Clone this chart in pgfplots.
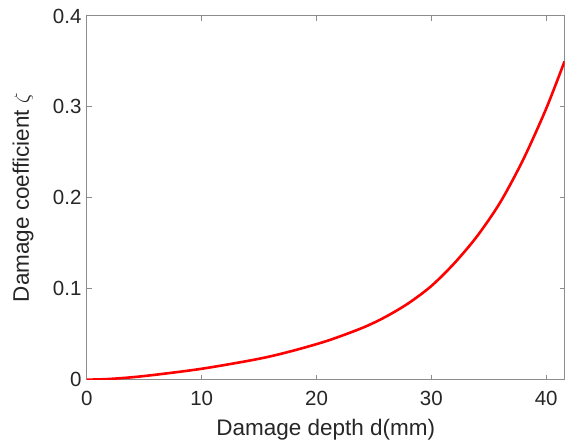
\documentclass[border=0pt]{standalone}
\usepackage{pgfplots}
\pgfplotsset{compat=1.18}
\usepackage{fontspec}
\setmainfont{Liberation Sans}
\definecolor{axgray}{rgb}{0.55,0.55,0.55}
\definecolor{txtgray}{rgb}{0.15,0.15,0.15}
\begin{document}
\begin{tikzpicture}
  \begin{axis}[
    name=ax,
    scale only axis, width=478pt, height=364pt,
    xmin=0, xmax=41.6, ymin=0, ymax=0.4,
    xtick={0,10,20,30,40}, ytick={0,0.1,0.2,0.3,0.4},
    axis line style={axgray, line width=1pt},
    tick style={axgray, line width=1pt},
    tick align=inside, major tick length=5pt,
    xlabel={Damage depth d(mm)},
    ylabel={Damage coefficient $\zeta$},
    tick label style={font=\fontsize{20.5}{24}\selectfont, text=txtgray},
    label style={font=\fontsize{22.5}{26}\selectfont, text=txtgray},
    /pgf/number format/assume math mode=true,
    yticklabel style={/pgf/number format/fixed, /pgf/number format/precision=1, xshift=-2pt},
    xticklabel style={yshift=-8pt},
    xlabel style={at={(axis description cs:0.5,0)}, anchor=center, yshift=-50pt},
    % rotated label: yshift moves it to the left
    ylabel style={at={(axis description cs:0,0.5)}, anchor=center, yshift=64pt},
  ]
    % values
    \addplot[red, line width=2.6pt, smooth] coordinates {
      (0,0) (2,0.0008) (5,0.004) (10,0.012) (15,0.023) (18,0.032)
      (21,0.043) (24,0.057) (26,0.069) (28,0.084) (30,0.103)
      (32,0.128) (34,0.158) (36,0.195) (38,0.242) (40,0.298) (41.6,0.350)
    };
  \end{axis}
  \path ([shift={(-87pt,-68pt)}]ax.south west) rectangle ([shift={(0pt,16pt)}]ax.north east);
\end{tikzpicture}
\end{document}
